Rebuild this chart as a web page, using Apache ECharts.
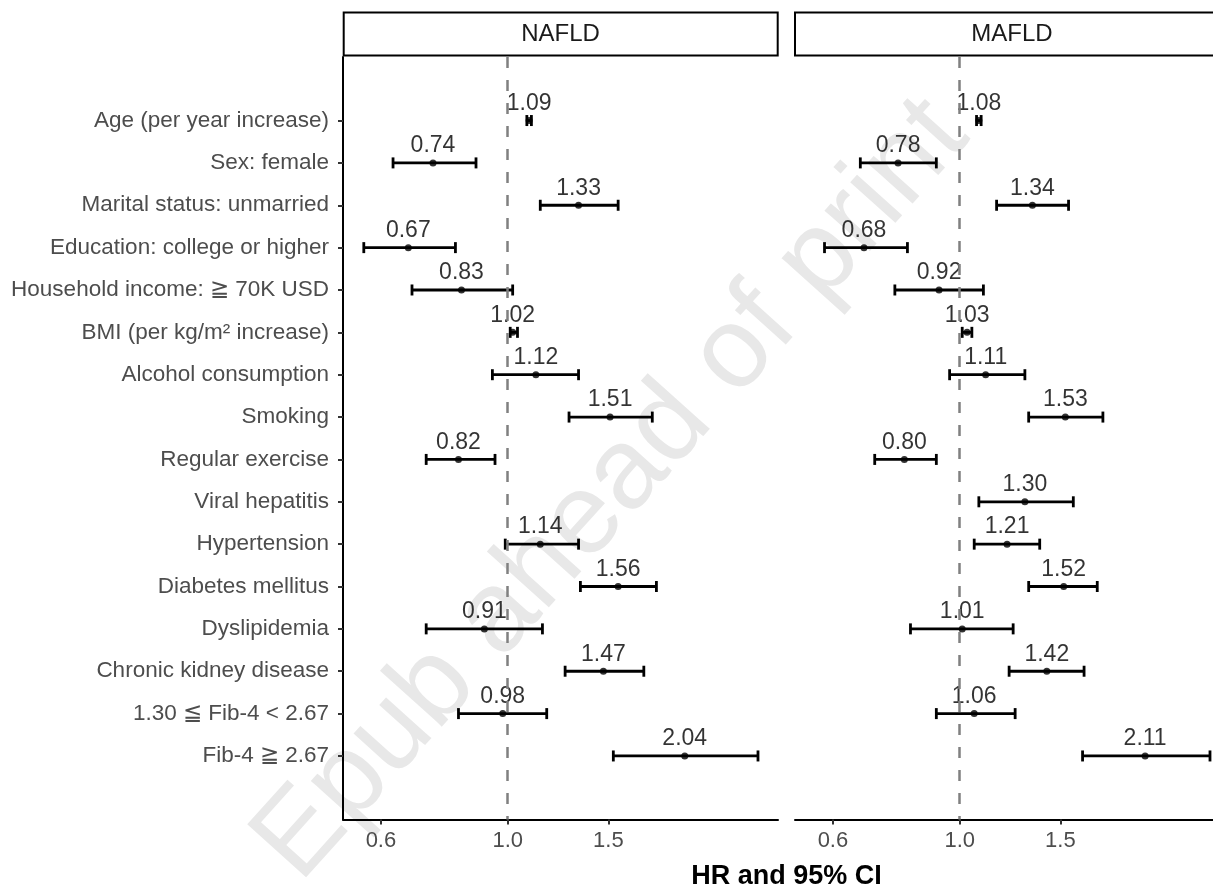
<!DOCTYPE html>
<html>
<head>
<meta charset="utf-8">
<script src="https://cdn.jsdelivr.net/npm/echarts@6/dist/echarts.min.js"></script>
<style>
html,body{margin:0;padding:0;background:#fff;overflow:hidden;width:1213px;height:888px;}
#chart{width:1230px;height:888px;}
</style>
</head>
<body>
<div id="chart"></div>
<script>
// ---- data ----
const categories = [
  "Age (per year increase)",
  "Sex: female",
  "Marital status: unmarried",
  "Education: college or higher",
  "Household income: \u2267 70K USD",
  "BMI (per kg/m\u00B2 increase)",
  "Alcohol consumption",
  "Smoking",
  "Regular exercise",
  "Viral hepatitis",
  "Hypertension",
  "Diabetes mellitus",
  "Dyslipidemia",
  "Chronic kidney disease",
  "1.30 \u2266 Fib-4 < 2.67",
  "Fib-4 \u2267 2.67"
];
const panels = ["NAFLD", "MAFLD"];
const nafldHR = [1.09, 0.74, 1.33, 0.67, 0.83, 1.02, 1.12, 1.51, 0.82, null, 1.14, 1.56, 0.91, 1.47, 0.98, 2.04];
const nafldLo = [1.08, 0.63, 1.14, 0.56, 0.68, 1.01, 0.94, 1.28, 0.72, null, 0.99, 1.34, 0.72, 1.26, 0.82, 1.53];
const nafldHi = [1.10, 0.88, 1.56, 0.81, 1.02, 1.04, 1.33, 1.79, 0.95, null, 1.33, 1.82, 1.15, 1.73, 1.17, 2.74];
const mafldHR = [1.08, 0.78, 1.34, 0.68, 0.92, 1.03, 1.11, 1.53, 0.80, 1.30, 1.21, 1.52, 1.01, 1.42, 1.06, 2.11];
const mafldLo = [1.07, 0.67, 1.16, 0.58, 0.77, 1.01, 0.96, 1.32, 0.71, 1.08, 1.06, 1.32, 0.82, 1.22, 0.91, 1.64];
const mafldHi = [1.09, 0.91, 1.55, 0.81, 1.10, 1.05, 1.30, 1.78, 0.91, 1.58, 1.38, 1.74, 1.24, 1.65, 1.25, 2.74];
const xTicks = [0.6, 1.0, 1.5];
const xLimits = [0.515, 2.97];
const refValue = 1.0;
const axisTitle = "HR and 95% CI";
const watermark = "Epub ahead of print";

// ---- helpers ----
const L = v => Math.log10(v);
const FONT = '"Liberation Sans", Arial, Helvetica, sans-serif';

function buildRows(hr, lo, hi) {
  const rows = [];
  for (let i = 0; i < categories.length; i++) {
    if (hr[i] == null) continue;
    rows.push({ i, hr: hr[i], lo: lo[i], hi: hi[i] });
  }
  return rows;
}
const panelRows = [buildRows(nafldHR, nafldLo, nafldHi), buildRows(mafldHR, mafldLo, mafldHi)];

// canvas is 1230 wide; the page window (1213) crops the right edge like the reference
const grids = [
  { left: 343, right: 452, top: 57, bottom: 68.5 },
  { left: 795, right: 0, top: 57, bottom: 68.5 }
];

const xAxes = grids.map((g, k) => ({
  type: 'value', gridIndex: k,
  min: L(xLimits[0]), max: L(xLimits[1]),
  splitLine: { show: false },
  axisLine: { show: true, onZero: false, lineStyle: { color: '#000', width: 2 } },
  axisTick: { show: true, customValues: xTicks.map(L), length: 5, lineStyle: { color: '#333', width: 2 } },
  axisLabel: {
    show: true, customValues: xTicks.map(L), margin: 10,
    formatter: v => Math.pow(10, v).toFixed(1),
    color: '#4D4D4D', fontSize: 22, fontFamily: FONT
  }
}));

const yAxes = grids.map((g, k) => ({
  type: 'value', gridIndex: k, inverse: true,
  min: -1.5, max: 16.5,
  splitLine: { show: false },
  axisLine: { show: k === 0, onZero: false, lineStyle: { color: '#000', width: 2 } },
  axisTick: { show: k === 0, customValues: categories.map((c, i) => i), length: 5, lineStyle: { color: '#333', width: 2 } },
  axisLabel: {
    show: k === 0, customValues: categories.map((c, i) => i), margin: 14,
    formatter: v => categories[Math.round(v)],
    color: '#4D4D4D', fontSize: 22.5, fontFamily: FONT
  }
}));

const series = [];
panelRows.forEach((rows, k) => {
  series.push({
    type: 'custom', xAxisIndex: k, yAxisIndex: k, z: 3,
    encode: { x: [0, 1], y: 2 },
    data: rows.map(r => [L(r.lo), L(r.hi), r.i]),
    renderItem: (params, api) => {
      const y = api.value(2);
      const p1 = api.coord([api.value(0), y]);
      const p2 = api.coord([api.value(1), y]);
      const h = 5.5;
      const st = { stroke: '#000', lineWidth: 2.8 };
      return {
        type: 'group', children: [
          { type: 'line', shape: { x1: p1[0], y1: p1[1], x2: p2[0], y2: p2[1] }, style: st },
          { type: 'line', shape: { x1: p1[0], y1: p1[1] - h, x2: p1[0], y2: p1[1] + h }, style: st },
          { type: 'line', shape: { x1: p2[0], y1: p2[1] - h, x2: p2[0], y2: p2[1] + h }, style: st }
        ]
      };
    }
  });
  series.push({
    type: 'scatter', xAxisIndex: k, yAxisIndex: k, z: 4,
    symbol: 'circle', symbolSize: 7,
    itemStyle: { color: '#000' },
    data: rows.map(r => [L(r.hr), r.i, r.hr]),
    label: {
      show: true, position: 'inside', offset: [0, -17],
      formatter: p => p.data[2].toFixed(2),
      color: '#000', fontSize: 23, fontFamily: FONT
    },
    emphasis: { disabled: true },
    markLine: {
      silent: true, symbol: 'none',
      label: { show: false },
      lineStyle: { color: '#808080', width: 2.5, type: [11, 12] },
      data: [{ xAxis: L(refValue) }]
    }
  });
});

const graphic = [
  {
    type: 'text', z: -10,
    x: 612, y: 490, rotation: 48 * Math.PI / 180,
    style: {
      text: watermark, fill: '#e8e8e8', font: '115px ' + FONT,
      textAlign: 'center', textVerticalAlign: 'middle'
    }
  },
  {
    type: 'rect', z: 10,
    shape: { x: 343.7, y: 12.5, width: 434, height: 43 },
    style: { fill: '#fff', stroke: '#000', lineWidth: 2 }
  },
  {
    type: 'rect', z: 10,
    shape: { x: 795, y: 12.5, width: 434, height: 43 },
    style: { fill: '#fff', stroke: '#000', lineWidth: 2 }
  },
  {
    type: 'text', z: 11, x: 560.5, y: 34,
    style: { text: panels[0], fill: '#1A1A1A', font: '24px ' + FONT, textAlign: 'center', textVerticalAlign: 'middle' }
  },
  {
    type: 'text', z: 11, x: 1012, y: 34,
    style: { text: panels[1], fill: '#1A1A1A', font: '24px ' + FONT, textAlign: 'center', textVerticalAlign: 'middle' }
  },
  {
    type: 'text', z: 11, x: 786.5, y: 877,
    style: { text: axisTitle, fill: '#000', font: 'bold 27px ' + FONT, textAlign: 'center', textVerticalAlign: 'middle' }
  }
];

const chart = echarts.init(document.getElementById('chart'), null, { renderer: 'canvas' });
chart.setOption({
  animation: false,
  backgroundColor: '#fff',
  grid: grids,
  xAxis: xAxes,
  yAxis: yAxes,
  series: series,
  graphic: graphic
});
</script>
</body>
</html>
